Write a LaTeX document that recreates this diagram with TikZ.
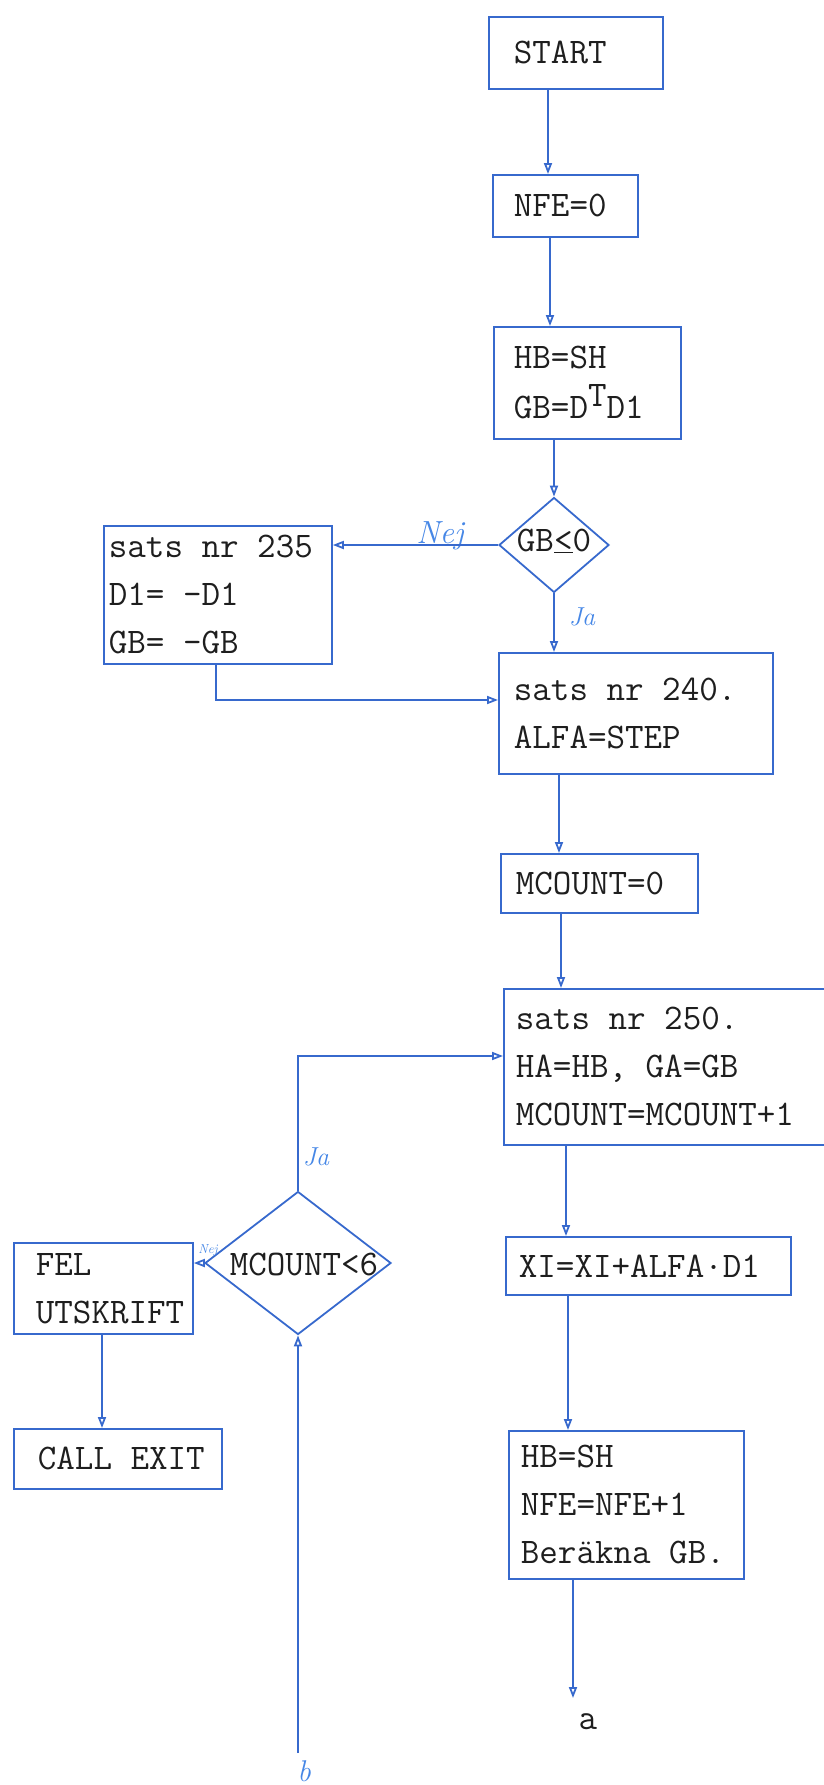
\documentclass[tikz,border=0pt]{standalone}
\usetikzlibrary{arrows.meta,shapes.geometric}
\definecolor{ink}{RGB}{55,105,205}
\definecolor{pen}{RGB}{70,135,230}
\definecolor{typ}{RGB}{30,30,30}
\newcommand\twfont{\ttfamily\fontsize{36}{48}\selectfont}
\newcommand\boxlines[3]{\hspace*{#1pt}\parbox[c]{#2pt}{\raggedright #3}}
\newcommand\mdot{\raisebox{8pt}{.}}
\begin{document}
\begin{tikzpicture}[x=1pt,y=-1pt,
  box/.style={draw=ink, line width=1.8pt, rectangle, inner sep=0pt, anchor=north west, font=\twfont, text=typ},
  dia/.style={draw=ink, line width=1.8pt, diamond, inner sep=0pt, font=\twfont, text=typ},
  arr/.style={draw=ink, line width=1.8pt, -{Triangle[open,length=11pt,width=8pt]}},
  hand/.style={text=pen, inner sep=0pt, font=\fontsize{28}{28}\selectfont\itshape},
  typed/.style={text=typ, inner sep=0pt, font=\twfont}]
\useasboundingbox (0,0) rectangle (823,1785);

% boxes
\node[box, minimum width=174pt, minimum height=72pt] (start) at (488,16) {\boxlines{25}{149}{START}};
\node[box, minimum width=145pt, minimum height=62pt] (nfe) at (492,174) {\boxlines{21}{124}{NFE=0}};
\node[box, minimum width=187pt, minimum height=112pt] (hbgb) at (493,326) {\boxlines{20}{167}{HB=SH\\[2pt]GB=D\raisebox{12pt}{T}D1}};
\node[dia, minimum width=110pt, minimum height=95pt] (d1) at (554,545) {\makebox[0pt]{\smash{\raisebox{-6pt}{GB\underline{<}0}}}};
\node[box, minimum width=228pt, minimum height=138pt] (n235) at (103,525) {\boxlines{5}{223}{sats nr 235\\D1= -D1\\GB= -GB}};
\node[box, minimum width=274pt, minimum height=121pt] (n240) at (498,652) {\boxlines{15}{259}{sats nr 240.\\ALFA=STEP}};
\node[box, minimum width=197pt, minimum height=59pt] (mc0) at (500,853) {\boxlines{15}{182}{MCOUNT=0}};
\node[box, minimum width=327pt, minimum height=156pt] (n250) at (503,988) {\boxlines{12}{315}{sats nr 250.\\HA=HB, GA=GB\\MCOUNT=MCOUNT+1}};
\node[box, minimum width=285pt, minimum height=58pt] (xi) at (505,1236) {\boxlines{13}{272}{XI=XI+ALFA\mdot D1}};
\node[box, minimum width=235pt, minimum height=148pt] (hb2) at (508,1430) {\boxlines{12}{223}{HB=SH\\NFE=NFE+1\\Beräkna GB.}};
\node[dia, minimum width=186pt, minimum height=143pt] (d2) at (298,1263) {\makebox[0pt]{\smash{\hspace*{12pt}\raisebox{-12pt}{MCOUNT<6}}}};
\node[box, minimum width=179pt, minimum height=91pt] (fel) at (13,1242) {\boxlines{22}{157}{FEL\\UTSKRIFT}};
\node[box, minimum width=208pt, minimum height=60pt] (call) at (13,1428) {\boxlines{24}{184}{CALL EXIT}};

% labels
\node[hand, font=\fontsize{32}{32}\selectfont\itshape] (nej1) at (440,536) {Nej};
\node[hand, font=\fontsize{26}{26}\selectfont\itshape] (ja1) at (582,617) {Ja};
\node[hand, font=\fontsize{26}{26}\selectfont\itshape] (ja2) at (316,1157) {Ja};
\node[hand, font=\fontsize{13}{13}\selectfont\itshape] (nej2) at (208,1250) {Nej};
\node[typed] (a) at (588,1722) {a};
\node[hand, font=\fontsize{30}{30}\selectfont\itshape] (b) at (304,1771) {b};

% connectors
\coordinate (xa) at (548,0);
\coordinate (xb) at (550,0);
\coordinate (xc) at (559,0);
\coordinate (xd) at (561,0);
\coordinate (xe) at (566,0);
\coordinate (xf) at (568,0);
\coordinate (xh) at (102,0);
\coordinate (j1) at (216,700);
\coordinate (j2) at (298,1056);
\coordinate (ae) at (573,1698);
\coordinate (be) at (298,1753);

\draw[arr] (start.south -| xa) -- (nfe.north -| xa);
\draw[arr] (nfe.south -| xb) -- (hbgb.north -| xb);
\draw[arr] (hbgb.south -| d1.north) -- (d1.north);
\draw[arr] (d1.west) -- (n235.east |- d1.west);
\draw[arr] (d1.south) -- (n240.north -| d1.south);
\draw[arr] (n235.south -| j1) -- (j1) -- (n240.west |- j1);
\draw[arr] (n240.south -| xc) -- (mc0.north -| xc);
\draw[arr] (mc0.south -| xd) -- (n250.north -| xd);
\draw[arr] (n250.south -| xe) -- (xi.north -| xe);
\draw[arr] (xi.south -| xf) -- (hb2.north -| xf);
\draw[arr] (hb2.south -| ae) -- (ae);
\draw[arr] (be) -- (d2.south);
\draw[arr] (d2.north) -- (d2.north |- j2) -- (n250.west |- j2);
\draw[arr] (d2.west) -- (fel.east |- d2.west);
\draw[arr] (fel.south -| xh) -- (call.north -| xh);
\end{tikzpicture}
\end{document}
